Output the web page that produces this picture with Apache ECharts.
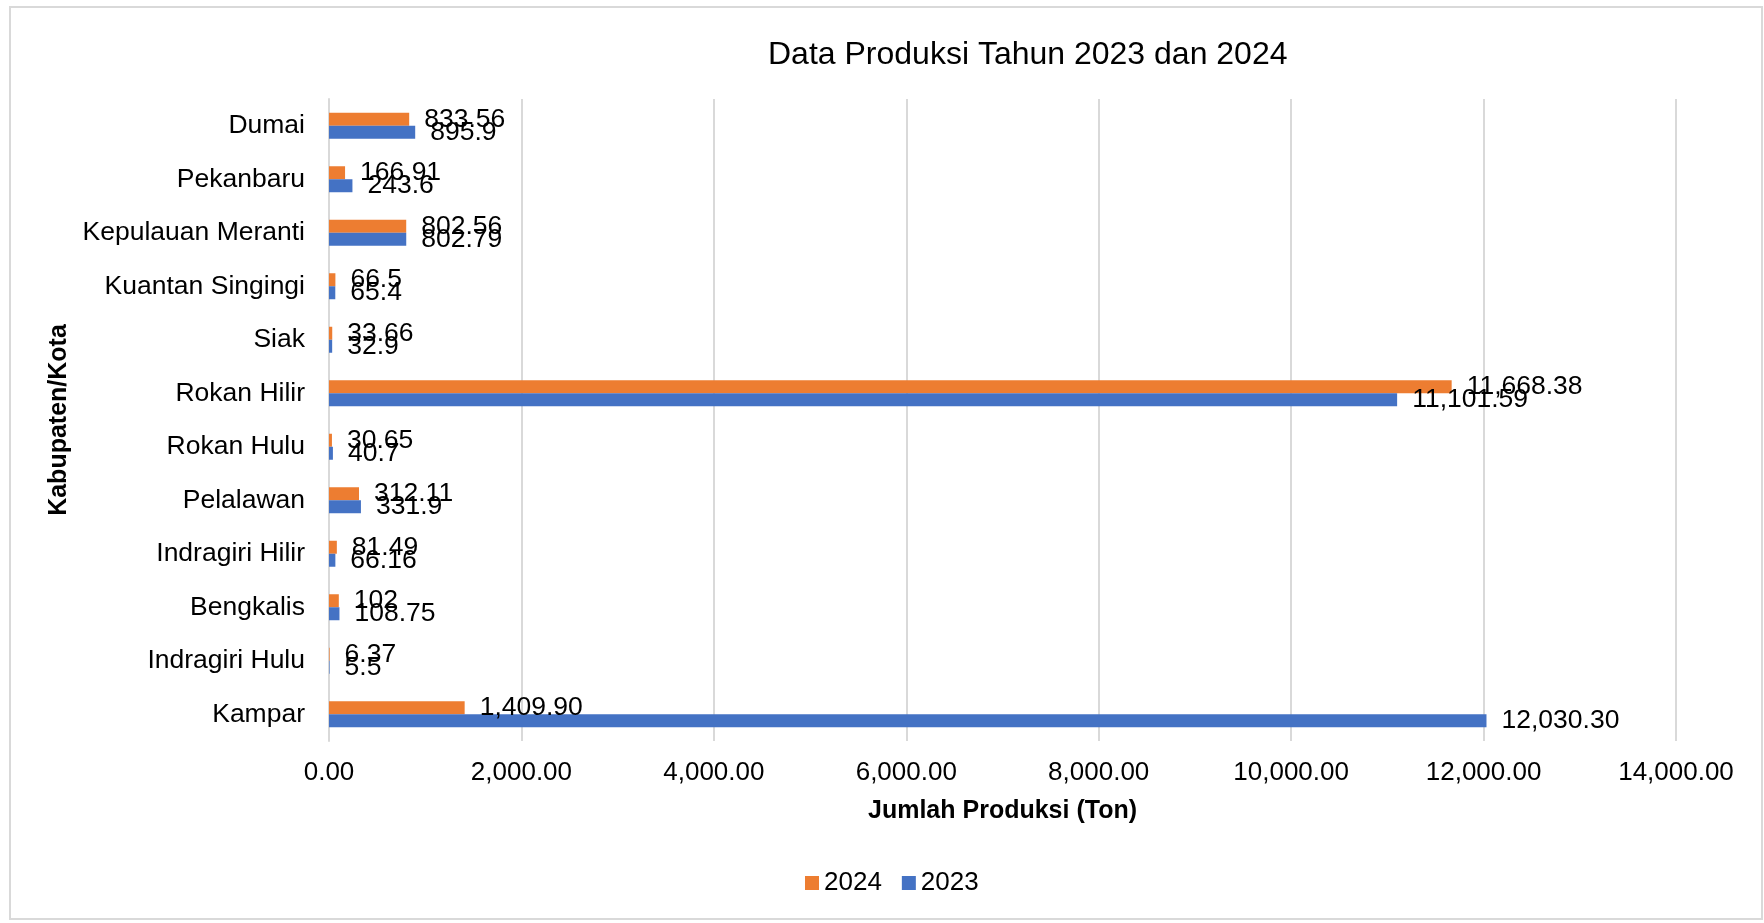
<!DOCTYPE html>
<html lang="id">
<head>
<meta charset="UTF-8" />
<title>Data Produksi Tahun 2023 dan 2024</title>
<script src="https://cdn.jsdelivr.net/npm/echarts@6/dist/echarts.min.js"></script>
<style>
  html, body { margin: 0; padding: 0; background: #fff; }
</style>
</head>
<body>
<!-- Chart container -->
<div id="main" style="width: 1764px; height: 923px"></div>

<script>
// Categories, bottom to top (Excel order)
const categories = [
    "Kampar", "Indragiri Hulu", "Bengkalis", "Indragiri Hilir", "Pelalawan",
    "Rokan Hulu", "Rokan Hilir", "Siak", "Kuantan Singingi",
    "Kepulauan Meranti", "Pekanbaru", "Dumai"
];

const values2023 = [12030.30, 5.5, 108.75, 66.16, 331.9, 40.7, 11101.59, 32.9, 65.4, 802.79, 243.6, 895.9];
const values2024 = [1409.90, 6.37, 102, 81.49, 312.11, 30.65, 11668.38, 33.66, 66.5, 802.56, 166.91, 833.56];

const xTicks = [0, 2000, 4000, 6000, 8000, 10000, 12000, 14000];

const FONT = "Liberation Sans, Arial, sans-serif";

// values of 1000 and up show with thousand separators, the rest as typed
function labelText(v) {
    if (v >= 1000) {
        return v.toLocaleString("en-US", { minimumFractionDigits: 2, maximumFractionDigits: 2 });
    }
    return String(v);
}

let myChart = echarts.init(document.getElementById("main"));

let options = {
    backgroundColor: "#fff",
    textStyle: { fontFamily: FONT },
    title: {
        text: "Data Produksi Tahun 2023 dan 2024",
        left: 763,
        top: 34,
        textStyle: { fontFamily: FONT, fontSize: 32, fontWeight: "normal", color: "#000" }
    },
    graphic: [
        {
            type: "rect",
            shape: { x: 10, y: 7, width: 1752, height: 912 },
            style: { fill: "none", stroke: "#d9d9d9", lineWidth: 2 },
            silent: true
        }
    ],
    legend: {
        data: ["2024", "2023"],
        left: 800,
        top: 865,
        itemWidth: 14,
        itemHeight: 14,
        itemGap: 20,
        icon: "rect",
        textStyle: { fontFamily: FONT, fontSize: 26, color: "#000" }
    },
    grid: {
        left: 329,
        right: 88,
        top: 99,
        bottom: 182,
        containLabel: false
    },
    xAxis: {
        type: "value",
        min: xTicks[0],
        max: xTicks[xTicks.length - 1],
        interval: 2000,
        name: "Jumlah Produksi (Ton)",
        nameLocation: "middle",
        nameGap: 58,
        nameTextStyle: { fontFamily: FONT, fontSize: 25, fontWeight: "bold", color: "#000" },
        axisLine: { show: false },
        axisTick: { show: false },
        axisLabel: {
            margin: 19,
            fontFamily: FONT,
            fontSize: 26,
            color: "#000",
            formatter: (v) => v.toLocaleString("en-US", { minimumFractionDigits: 2, maximumFractionDigits: 2 })
        },
        splitLine: { show: true, lineStyle: { color: "#d9d9d9", width: 2 } }
    },
    yAxis: {
        type: "category",
        data: categories,
        name: "Kabupaten/Kota",
        nameLocation: "middle",
        nameGap: 255,
        nameRotate: 90,
        nameTextStyle: { fontFamily: FONT, fontSize: 25, fontWeight: "bold", color: "#000" },
        axisLine: { show: true, lineStyle: { color: "#d9d9d9", width: 2 } },
        axisTick: { show: false },
        axisLabel: { margin: 24, fontFamily: FONT, fontSize: 26.5, color: "#000" },
        splitLine: { show: false }
    },
    series: [
        {
            name: "2024",
            type: "bar",
            data: values2024,
            barWidth: 13,
            barGap: "0%",
            itemStyle: { color: "#ED7D31" },
            label: {
                show: true,
                position: "right",
                distance: 15,
                fontFamily: FONT,
                fontSize: 26.5,
                color: "#000",
                formatter: (p) => labelText(p.value)
            }
        },
        {
            name: "2023",
            type: "bar",
            data: values2023,
            barWidth: 13,
            barGap: "0%",
            itemStyle: { color: "#4472C4" },
            label: {
                show: true,
                position: "right",
                distance: 15,
                fontFamily: FONT,
                fontSize: 26.5,
                color: "#000",
                formatter: (p) => labelText(p.value)
            }
        }
    ]
};

myChart.setOption(options);
</script>
</body>
</html>
